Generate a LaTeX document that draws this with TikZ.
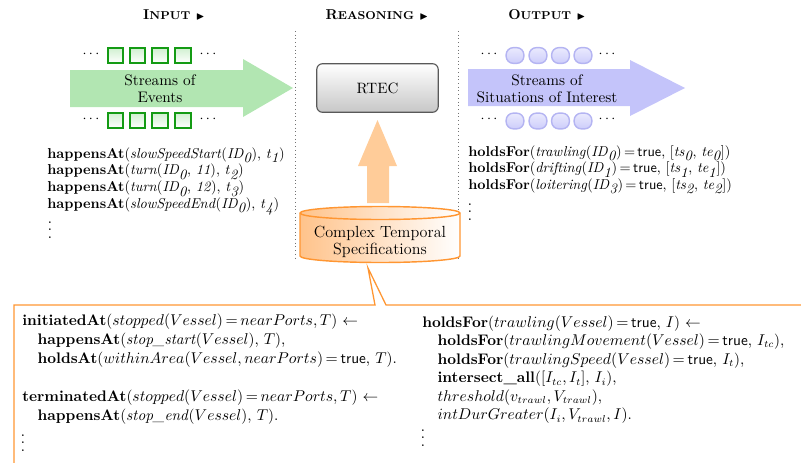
\documentclass[tikz,border=0pt]{standalone}
\usepackage{amssymb}
\definecolor{sqgreen}{RGB}{20,155,20}
\definecolor{arrgreen}{RGB}{178,230,178}
\definecolor{arrblue}{RGB}{196,196,250}
\definecolor{circblue}{RGB}{180,180,242}
\definecolor{peach}{RGB}{255,204,153}
\definecolor{orangeline}{RGB}{255,150,50}
\definecolor{cylorange}{RGB}{255,180,110}
\newcommand{\sbi}[1]{$_{\textit{#1}}$}
\newcommand{\tru}{\textsf{true}}
\newcommand{\eqq}{$\,{=}\,$}
\newcommand{\vd}{\vbox{\baselineskip5.3pt\lineskiplimit0pt\hbox{\large.}\hbox{\large.}\hbox{\large.}}}
\begin{document}
\begin{tikzpicture}[x=0.7pt,y=-0.7pt,
  heading/.style={font=\bfseries, inner sep=0pt},
  sq/.style={draw=sqgreen, line width=1.4pt, minimum size=10.6pt, inner sep=0pt,
    top color=arrgreen!60, bottom color=white},
  circ/.style={draw=circblue, line width=1pt, minimum width=12.4pt, minimum height=11pt,
    inner sep=0pt, rounded corners=5pt, top color=arrblue!35, bottom color=arrblue!85},
  dotsnode/.style={inner sep=0pt},
  arrtext/.style={align=center, font=\fontsize{10.7}{12}\selectfont, inner sep=0pt},
  rtecbox/.style={draw=black!65, line width=0.8pt, rounded corners=4pt,
    minimum width=85pt, minimum height=34pt, top color=white, bottom color=black!22,
    font=\fontsize{10.5}{12}\selectfont},
  formula/.style={align=left, anchor=north west, inner sep=0pt},
  sep/.style={dotted, black!55, line width=0.6pt}
]
\useasboundingbox (0,0) rectangle (801,462);

% headings
\node[heading] (hin) at (174,15) {I{\footnotesize NPUT} {\scriptsize$\blacktriangleright$}};
\node[heading] (hrs) at (377,15) {R{\footnotesize EASONING} {\scriptsize$\blacktriangleright$}};
\node[heading] (hout) at (547,15) {O{\footnotesize UTPUT} {\scriptsize$\blacktriangleright$}};

% separators
\coordinate (s1t) at (295.5,31); \coordinate (s1b) at (295.5,261);
\coordinate (s2t) at (458.5,31); \coordinate (s2b) at (458.5,261);
\draw[sep] (s1t) -- (s1b);
\draw[sep] (s2t) -- (s2b);

% green arrow
\fill[arrgreen] (70,70) -- (243,70) -- (243,59) -- (293,88) -- (243,117) -- (243,107) -- (70,107) -- cycle;
\node[arrtext] (ev) at (160,89) {Streams of\\Events};
\foreach \i/\x in {1/115.5,2/137.7,3/160,4/183}{
  \node[sq] (gt\i) at (\x,55.5) {};
  \node[sq] (gb\i) at (\x,120.5) {};
}
\node[dotsnode] (gtl) at (91,54) {$\cdots$};
\node[dotsnode] (gtr) at (208,54) {$\cdots$};
\node[dotsnode] (gbl) at (91,119) {$\cdots$};
\node[dotsnode] (gbr) at (208,119) {$\cdots$};

% blue arrow
\fill[arrblue] (468,69) -- (630,69) -- (630,60) -- (685,88) -- (630,116) -- (630,106) -- (468,106) -- cycle;
\node[arrtext] (sit) at (547,88.5) {Streams of\\Situations of Interest};
\foreach \i/\x in {1/515,2/538,3/560.5,4/583}{
  \node[circ] (bt\i) at (\x,55.5) {};
  \node[circ] (bb\i) at (\x,121) {};
}
\node[dotsnode] (btl) at (489,54) {$\cdots$};
\node[dotsnode] (btr) at (607,54) {$\cdots$};
\node[dotsnode] (bbl) at (489,119.5) {$\cdots$};
\node[dotsnode] (bbr) at (607,119.5) {$\cdots$};

% RTEC
\node[rtecbox] (rtec) at (377.5,88) {RTEC};

% orange arrow up
\fill[peach] (367,203) -- (367,166) -- (358,166) -- (377.5,120) -- (397,166) -- (389,166) -- (389,203) -- cycle;

% cylinder
\path[draw=orangeline, line width=1pt, left color=cylorange!80, middle color=cylorange, right color=white]
  (300,213) -- (300,256) arc (180:0:80 and 6.5) -- (460,213) arc (0:-180:80 and 6.5) -- cycle;
\draw[orangeline, line width=1pt] (300,213) arc (180:0:80 and 6.5);
\node[arrtext, font=\fontsize{11.3}{12}\selectfont] (cyl) at (380,242) {Complex Temporal\\Specifications};

% callout box
\coordinate (apex) at (368,268);
\draw[orangeline, line width=0.9pt] (14,470) -- (14,305) -- (375,305) -- (apex) -- (386,305) -- (812,305);

% top formulas
\node[formula, font=\fontsize{10}{11.7}\selectfont] (inf) at (47,147) {%
\textbf{happensAt}(\textit{slowSpeedStart}(\textit{ID}\sbi{0}), \textit{t}\sbi{1})\\
\textbf{happensAt}(\textit{turn}(\textit{ID}\sbi{0}, \textit{11}), \textit{t}\sbi{2})\\
\textbf{happensAt}(\textit{turn}(\textit{ID}\sbi{0}, \textit{12}), \textit{t}\sbi{3})\\
\textbf{happensAt}(\textit{slowSpeedEnd}(\textit{ID}\sbi{0}), \textit{t}\sbi{4})};
\node[dotsnode] (infd) at (50,230) {\vd};

\node[formula, font=\fontsize{10}{11.6}\selectfont] (outf) at (468,145) {%
\textbf{holdsFor}(\textit{trawling}(\textit{ID}\sbi{0})\eqq\tru, [\textit{ts}\sbi{0}, \textit{te}\sbi{0}])\\
\textbf{holdsFor}(\textit{drifting}(\textit{ID}\sbi{1})\eqq\tru, [\textit{ts}\sbi{1}, \textit{te}\sbi{1}])\\
\textbf{holdsFor}(\textit{loitering}(\textit{ID}\sbi{3})\eqq\tru, [\textit{ts}\sbi{2}, \textit{te}\sbi{2}])};
\node[dotsnode] (outfd) at (470,212) {\vd};

% bottom rules
\node[formula, font=\fontsize{10.7}{13.3}\selectfont] (rl) at (22,313) {%
\textbf{initiatedAt}($stopped(Vessel)\,{=}\,nearPorts, T$) $\leftarrow$\\
\quad\textbf{happensAt}(\textit{stop\_start}($Vessel$), $T$),\\
\quad\textbf{holdsAt}($withinArea(Vessel, nearPorts)$\eqq\tru, $T$).\\[13.3pt]
\textbf{terminatedAt}($stopped(Vessel)\,{=}\,nearPorts, T$) $\leftarrow$\\
\quad\textbf{happensAt}(\textit{stop\_end}($Vessel$), $T$).};
\node[dotsnode] (rld) at (23,443) {\vd};

\node[formula, font=\fontsize{10.7}{13}\selectfont] (rr) at (422,315) {%
\textbf{holdsFor}($trawling(Vessel)$\eqq\tru, $I$) $\leftarrow$\\
\quad\textbf{holdsFor}($trawlingMovement(Vessel)$\eqq\tru, $I_{tc}$),\\
\quad\textbf{holdsFor}($trawlingSpeed(Vessel)$\eqq\tru, $I_t$),\\
\quad\textbf{intersect\_all}([$I_{tc}, I_t$], $I_i$),\\
\quad$threshold(v_{trawl}, V_{trawl})$,\\
\quad$intDurGreater(I_i, V_{trawl}, I)$.};
\node[dotsnode] (rrd) at (423,438) {\vd};
\end{tikzpicture}
\end{document}
